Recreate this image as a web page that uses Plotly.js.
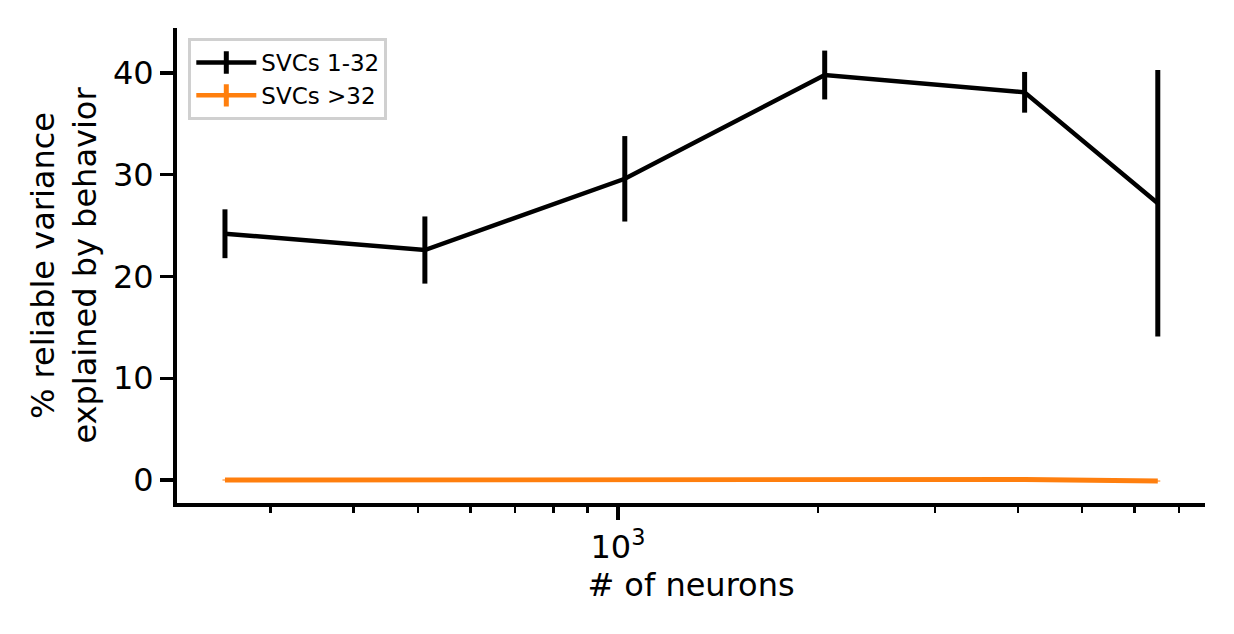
<!DOCTYPE html>
<html>
<head>
<meta charset="utf-8">
<script src="https://cdn.plot.ly/plotly-3.0.1.min.js"></script>
<style>html,body{margin:0;padding:0;background:#fff;}#chart{width:1234px;height:634px;}</style>
</head>
<body>
<div id="chart"></div>
<script>
const neurons = [256, 512, 1024, 2048, 4096, 6500];
const svcLowMean = [24.2, 22.6, 29.6, 39.8, 38.1, 27.2];
const svcLowErr = [2.4, 3.3, 4.2, 2.4, 2.0, 13.1];
const svcHighMean = [0.0, 0.0, -0.05, 0.0, 0.05, -0.1];
const svcHighErr = [0.05, 0.05, 0.05, 0.05, 0.05, 0.05];
const seriesNames = ["SVCs 1-32", "SVCs >32"];
const seriesColors = ["#000000", "#ff7f0e"];
const minorTicks = [300, 400, 500, 600, 700, 800, 900, 2000, 3000, 4000, 5000, 6000, 7000];
const majorTicks = [1000];
const majorTickText = ["10<sup>3</sup>"];
const yTicks = [0, 10, 20, 30, 40];

const font = "DejaVu Sans, sans-serif";
const traces = [
  {x: neurons, y: svcLowMean, type: 'scatter', mode: 'lines', name: seriesNames[0], showlegend: false,
   line: {color: seriesColors[0], width: 4.5},
   error_y: {type: 'data', array: svcLowErr, visible: true, color: seriesColors[0], thickness: 5, width: 0}},
  {x: neurons, y: svcHighMean, type: 'scatter', mode: 'lines', name: seriesNames[1], showlegend: false,
   line: {color: seriesColors[1], width: 4.8},
   error_y: {type: 'data', array: svcHighErr, visible: true, color: seriesColors[1], thickness: 5, width: 0}},
  {x: [neurons[0]], y: [null], type: 'scatter', mode: 'lines+markers', name: seriesNames[0],
   line: {color: seriesColors[0], width: 4.5}, marker: {symbol: 'line-ns-open', size: 22, line: {width: 5, color: seriesColors[0]}}},
  {x: [neurons[0]], y: [null], type: 'scatter', mode: 'lines+markers', name: seriesNames[1],
   line: {color: seriesColors[1], width: 4.5}, marker: {symbol: 'line-ns-open', size: 22, line: {width: 5, color: seriesColors[1]}}}
];

const layout = {
  width: 1234, height: 634,
  margin: {l: 177, r: 29, t: 28, b: 131},
  paper_bgcolor: '#fff', plot_bgcolor: '#fff',
  font: {family: font, size: 32, color: '#000'},
  showlegend: true,
  legend: {x: 0.011, y: 0.979, xanchor: 'left', yanchor: 'top',
    bgcolor: 'rgba(255,255,255,0.8)', bordercolor: '#d0d0d0', borderwidth: 3,
    font: {family: font, size: 23, color: '#000'}, tracegroupgap: 0, itemwidth: 60},
  xaxis: {
    type: 'log', range: [2.336, 3.884],
    showgrid: false, zeroline: false,
    showline: true, linecolor: '#000', linewidth: 4,
    ticks: 'outside', ticklen: 13, tickwidth: 3.3, tickcolor: '#000',
    tickmode: 'array', tickvals: majorTicks, ticktext: majorTickText,
    tickfont: {family: font, size: 32},
    minor: {tickmode: 'array', tickvals: minorTicks, ticks: 'outside', ticklen: 6, tickwidth: 2.5, tickcolor: '#000', showgrid: false},
    title: {text: '# of neurons', font: {family: font, size: 32}, standoff: 4}
  },
  yaxis: {
    range: [-2.26, 44.42],
    showgrid: false, zeroline: false,
    showline: true, linecolor: '#000', linewidth: 4,
    ticks: 'outside', ticklen: 13, tickwidth: 3.3, tickcolor: '#000',
    tickmode: 'array', tickvals: yTicks,
    tickfont: {family: font, size: 32},
    title: {text: '% reliable variance<br>explained by behavior', font: {family: font, size: 32}, standoff: 8}
  }
};

Plotly.newPlot('chart', traces, layout, {staticPlot: true, displayModeBar: false});
</script>
</body>
</html>
